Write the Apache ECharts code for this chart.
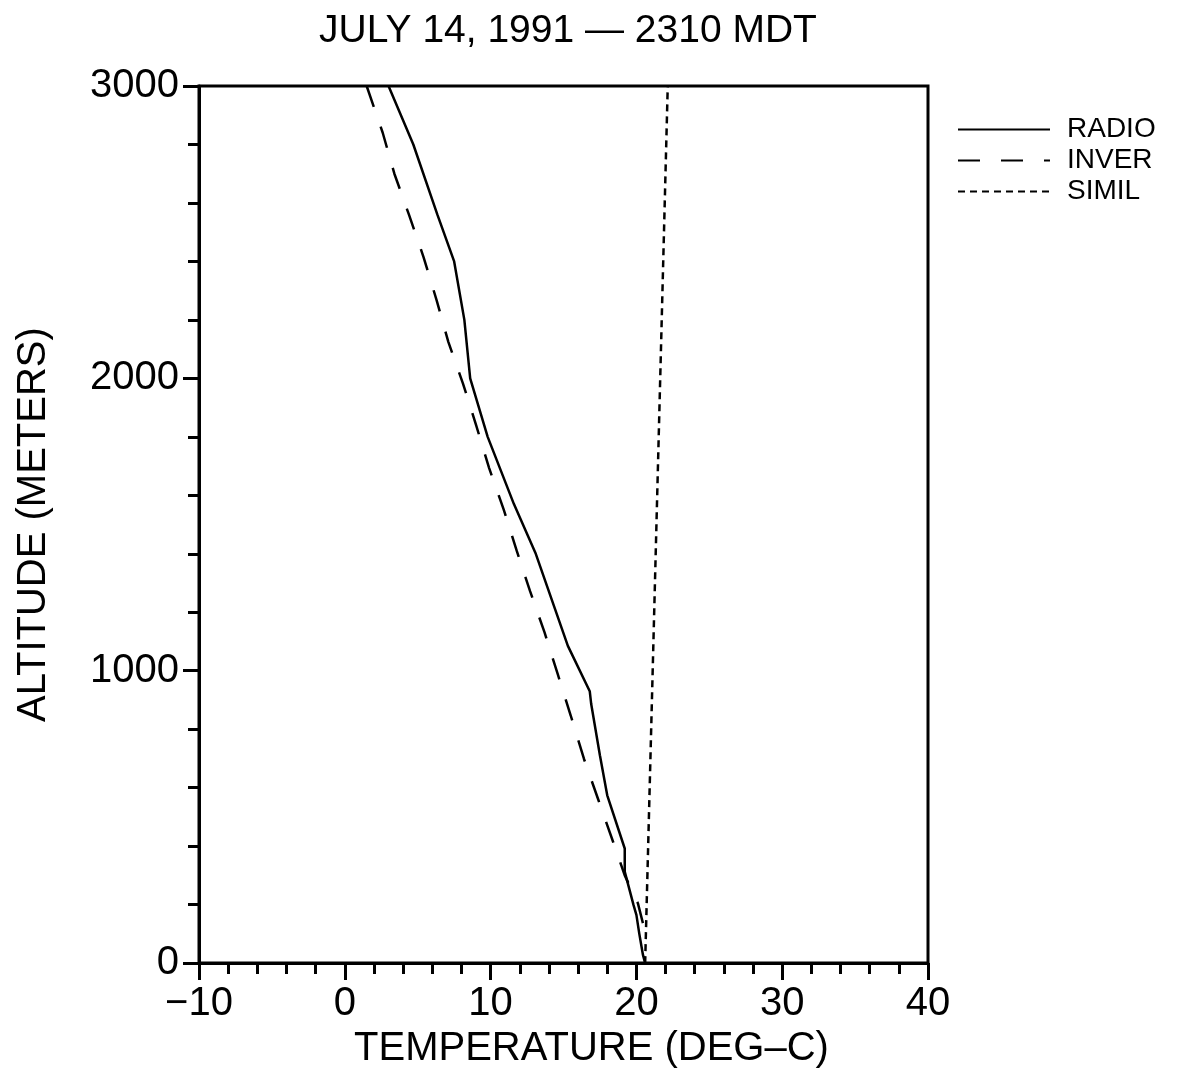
<!DOCTYPE html>
<html>
<head>
<meta charset="utf-8">
<script src="https://cdn.jsdelivr.net/npm/echarts@6/dist/echarts.min.js"></script>
<style>
html,body{margin:0;padding:0;background:#fff;}
#chart{width:1200px;height:1074px;}
</style>
</head>
<body>
<div id="chart"></div>
<script>
// ---- Data ----
const titleText = 'JULY 14, 1991 \u2014 2310 MDT';
const seriesNames = ['RADIO', 'INVER', 'SIMIL'];

// RADIO (radiosonde) profile
const radioTemp = [3.0, 4.7, 6.35, 7.5, 8.2, 8.6, 9.8, 11.6, 13.1, 15.3, 16.8, 16.9, 17.5, 18.0, 19.2, 19.2, 19.8, 20.0, 20.2, 20.45, 20.6];
const radioAlt  = [3000, 2800, 2560, 2400, 2200, 2000, 1800, 1570, 1400, 1085, 930, 886, 710, 574, 392, 313, 199, 165, 100, 28, 0];

// INVER (inversion) profile
const inverTemp = [1.5, 2.6, 3.4, 4.4, 5.4, 6.3, 7.1, 8.1, 9.0, 9.9, 10.9, 11.8, 12.7, 13.7, 14.6, 15.5, 16.4, 17.4, 18.4, 19.2, 20.1, 20.45];
const inverAlt  = [3000, 2840, 2700, 2560, 2415, 2267, 2125, 1983, 1841, 1693, 1551, 1409, 1273, 1131, 989, 846, 699, 557, 415, 300, 205, 136];

// SIMIL (similarity) profile
const similTemp = [20.6, 22.15];
const similAlt  = [0, 3000];

// Axis ranges / ticks
const xMin = -10, xMax = 40, xStep = 10;
const yMin = 0, yMax = 3000, yStep = 1000;

function zip(t, a) { return t.map((v, i) => [v, a[i]]); }

const FONT = 'Liberation Sans';
const chart = echarts.init(document.getElementById('chart'));

const lineBase = { type: 'line', showSymbol: false, symbol: 'none', smooth: false, silent: true, animation: false };

chart.setOption({
  backgroundColor: '#ffffff',
  animation: false,
  title: {
    text: titleText,
    left: 568,
    top: 12,
    textAlign: 'center',
    padding: 0,
    textStyle: { fontFamily: FONT, fontSize: 39, fontWeight: 'normal', color: '#000' }
  },
  legend: {
    orient: 'vertical',
    left: 952,
    top: 109,
    itemWidth: 92,
    itemHeight: 2,
    itemGap: 0,
    data: seriesNames,
    itemStyle: { opacity: 0 },
    textStyle: { fontFamily: FONT, fontSize: 28, color: '#000', padding: [0, 0, 0, 12], lineHeight: 31 },
    selectedMode: false
  },
  grid: {
    left: 199, right: 272, top: 86, bottom: 109,
    show: true, borderColor: '#000', borderWidth: 3, backgroundColor: 'transparent'
  },
  xAxis: {
    type: 'value', min: xMin, max: xMax, interval: xStep,
    name: 'TEMPERATURE (DEG\u2013C)',
    nameLocation: 'middle', nameGap: 60,
    nameTextStyle: { fontFamily: FONT, fontSize: 40, color: '#000', padding: [0, 0, 0, 56] },
    axisLine: { show: true, onZero: false, lineStyle: { color: '#000', width: 3 } },
    axisTick: { show: true, inside: false, length: 17, lineStyle: { color: '#000', width: 3 } },
    minorTick: { show: true, splitNumber: 5, length: 11, lineStyle: { color: '#000', width: 3 } },
    splitLine: { show: false },
    axisLabel: {
      fontFamily: FONT, fontSize: 40, color: '#000', margin: 21,
      formatter: v => (v < 0 ? '\u2212' + Math.abs(v) : String(v))
    }
  },
  yAxis: {
    type: 'value', min: yMin, max: yMax, interval: yStep,
    name: 'ALTITUDE (METERS)',
    nameLocation: 'middle', nameGap: 145,
    nameTextStyle: { fontFamily: FONT, fontSize: 40, color: '#000' },
    axisLine: { show: true, onZero: false, lineStyle: { color: '#000', width: 3 } },
    axisTick: { show: true, inside: false, length: 16, lineStyle: { color: '#000', width: 3 } },
    minorTick: { show: true, splitNumber: 5, length: 11, lineStyle: { color: '#000', width: 3 } },
    splitLine: { show: false },
    axisLabel: { fontFamily: FONT, fontSize: 40, color: '#000', margin: 20, formatter: v => String(v) }
  },
  series: [
    Object.assign({}, lineBase, {
      name: seriesNames[0], data: zip(radioTemp, radioAlt),
      lineStyle: { color: '#000', width: 2.5, type: 'solid' }, itemStyle: { color: '#000' }
    }),
    Object.assign({}, lineBase, {
      name: seriesNames[1], data: zip(inverTemp, inverAlt),
      lineStyle: { color: '#000', width: 2.5, type: [22, 21] }, itemStyle: { color: '#000' }
    }),
    Object.assign({}, lineBase, {
      name: seriesNames[2], data: zip(similTemp, similAlt),
      lineStyle: { color: '#000', width: 2.5, type: [7, 5] }, itemStyle: { color: '#000' }
    })
  ]
});
</script>
</body>
</html>
